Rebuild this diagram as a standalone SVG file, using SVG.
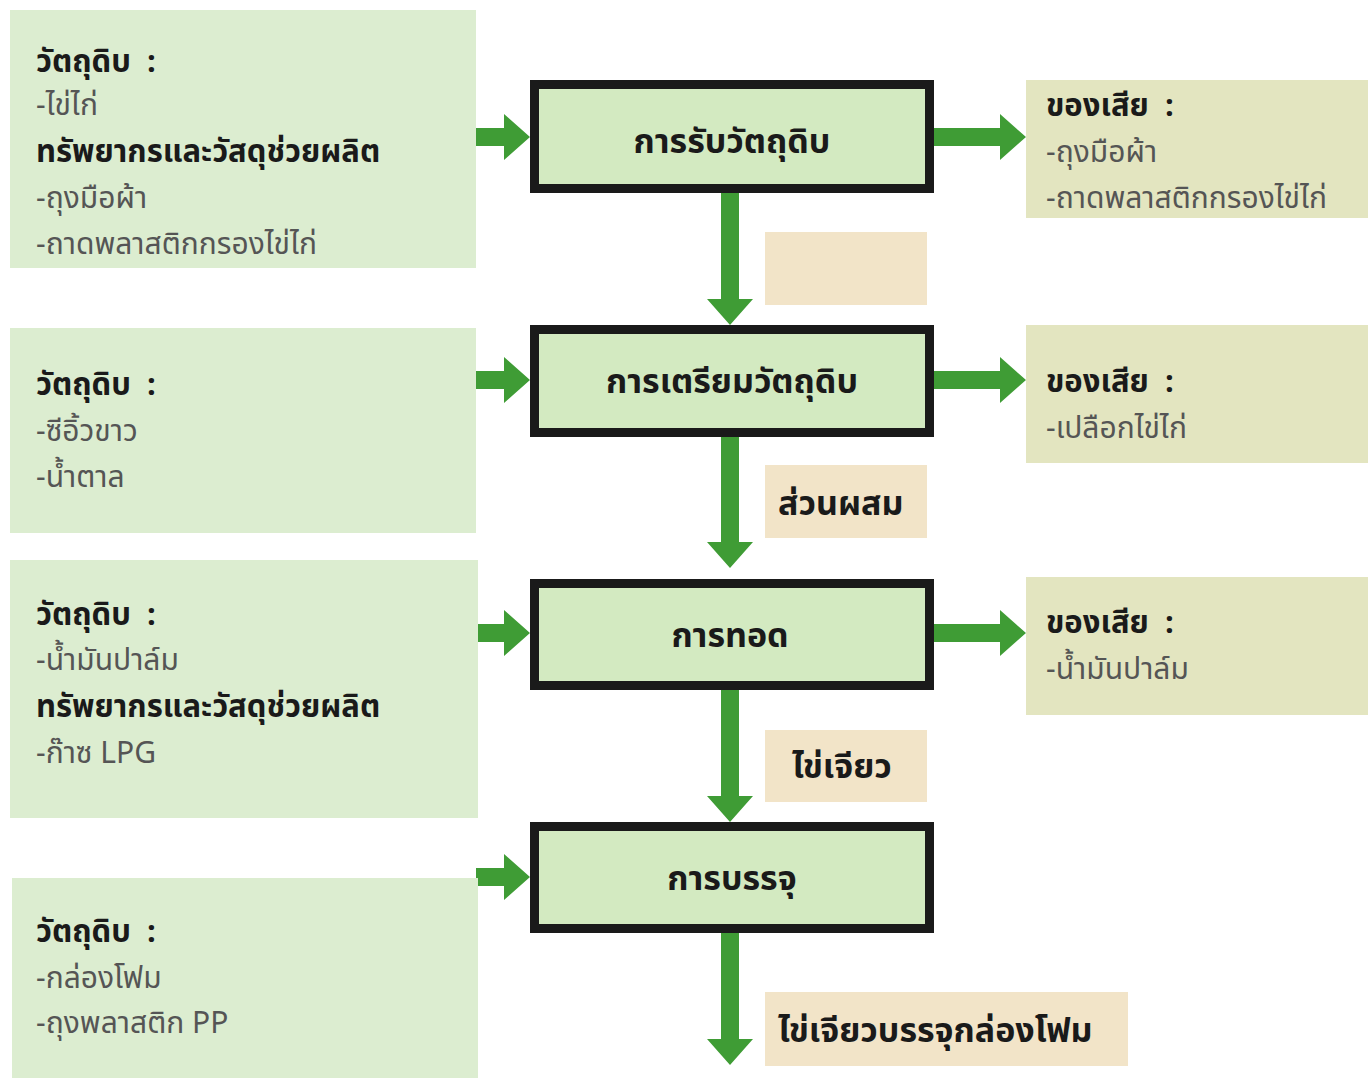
<svg xmlns="http://www.w3.org/2000/svg" width="1368" height="1078" viewBox="0 0 1368 1078">
<style>
.in{fill:#dcedd0}
.out{fill:#e3e5c0}
.lab{fill:#f2e4c8}
.proc{fill:#d3eac1;stroke:#1a1a1a;stroke-width:9}
.arr{fill:#3f9c35}
text{font-family:"Noto Sans Thai","Noto Sans","DejaVu Sans",sans-serif}
.h{font-size:31px;font-weight:bold;fill:#1a1a1a}
.b{font-size:30px;fill:#555}
.p{font-size:34px;font-weight:bold;fill:#1a1a1a;text-anchor:middle}
.l{font-size:34px;font-weight:bold;fill:#1a1a1a}
</style>
<rect width="1368" height="1078" fill="#fff"/>
<g id="connectors">
<path class="arr" d="M476,128 H504 V114 L530,137 L504,160 V146 H476 Z"/>
<path class="arr" d="M476,371 H504 V357 L530,380 L504,403 V389 H476 Z"/>
<path class="arr" d="M476,624 H504 V610 L530,633 L504,656 V642 H476 Z"/>
<path class="arr" d="M476,868 H504 V854 L530,877 L504,900 V886 H476 Z"/>
<path class="arr" d="M934,128 H1000 V114 L1026,137 L1000,160 V146 H934 Z"/>
<path class="arr" d="M934,371 H1000 V357 L1026,380 L1000,403 V389 H934 Z"/>
<path class="arr" d="M934,624 H1000 V610 L1026,633 L1000,656 V642 H934 Z"/>
<path class="arr" d="M721,193 V299 H707 L730,325 L753,299 H739 V193 Z"/>
<path class="arr" d="M721,437 V542 H707 L730,568 L753,542 H739 V437 Z"/>
<path class="arr" d="M721,690 V796 H707 L730,822 L753,796 H739 V690 Z"/>
<path class="arr" d="M721,933 V1039 H707 L730,1065 L753,1039 H739 V933 Z"/>
</g>
<g id="in1"><rect class="in" x="10" y="10" width="466" height="258"/>
<text class="h" x="36" y="72">วัตถุดิบ&#160;&#160;:</text>
<text class="b" x="36" y="115">-ไข่ไก่</text>
<text class="h" x="36" y="162">ทรัพยากรและวัสดุช่วยผลิต</text>
<text class="b" x="36" y="208">-ถุงมือผ้า</text>
<text class="b" x="36" y="254">-ถาดพลาสติกกรองไข่ไก่</text></g>
<g id="in2"><rect class="in" x="10" y="328" width="466" height="205"/>
<text class="h" x="36" y="395">วัตถุดิบ&#160;&#160;:</text>
<text class="b" x="36" y="441">-ซีอิ้วขาว</text>
<text class="b" x="36" y="487">-น้ำตาล</text></g>
<g id="in3"><rect class="in" x="10" y="560" width="468" height="258"/>
<text class="h" x="36" y="625">วัตถุดิบ&#160;&#160;:</text>
<text class="b" x="36" y="670">-น้ำมันปาล์ม</text>
<text class="h" x="36" y="717">ทรัพยากรและวัสดุช่วยผลิต</text>
<text class="b" x="36" y="763">-ก๊าซ LPG</text></g>
<g id="in4"><rect class="in" x="12" y="878" width="466" height="200"/>
<text class="h" x="36" y="942">วัตถุดิบ&#160;&#160;:</text>
<text class="b" x="36" y="988">-กล่องโฟม</text>
<text class="b" x="36" y="1033">-ถุงพลาสติก PP</text></g>
<g id="p1"><rect class="proc" x="534.5" y="84.5" width="395" height="104"/><text class="p" x="732" y="153">การรับวัตถุดิบ</text></g>
<g id="p2"><rect class="proc" x="534.5" y="329.5" width="395" height="103"/><text class="p" x="732" y="393">การเตรียมวัตถุดิบ</text></g>
<g id="p3"><rect class="proc" x="534.5" y="583.5" width="395" height="102"/><text class="p" x="730" y="647">การทอด</text></g>
<g id="p4"><rect class="proc" x="534.5" y="826.5" width="395" height="102"/><text class="p" x="732" y="890">การบรรจุ</text></g>
<g id="w1"><rect class="out" x="1026" y="80" width="342" height="138"/>
<text class="h" x="1046" y="116">ของเสีย&#160;&#160;:</text>
<text class="b" x="1046" y="162">-ถุงมือผ้า</text>
<text class="b" x="1046" y="208">-ถาดพลาสติกกรองไข่ไก่</text></g>
<g id="w2"><rect class="out" x="1026" y="325" width="342" height="138"/>
<text class="h" x="1046" y="392">ของเสีย&#160;&#160;:</text>
<text class="b" x="1046" y="438">-เปลือกไข่ไก่</text></g>
<g id="w3"><rect class="out" x="1026" y="577" width="342" height="138"/>
<text class="h" x="1046" y="633">ของเสีย&#160;&#160;:</text>
<text class="b" x="1046" y="679">-น้ำมันปาล์ม</text></g>
<g id="l1"><rect class="lab" x="765" y="232" width="162" height="73"/></g>
<g id="l2"><rect class="lab" x="765" y="465" width="162" height="73"/><text class="l" x="778" y="515">ส่วนผสม</text></g>
<g id="l3"><rect class="lab" x="765" y="730" width="162" height="72"/><text class="l" x="792" y="778">ไข่เจียว</text></g>
<g id="l4"><rect class="lab" x="765" y="992" width="363" height="74"/><text class="l" x="778" y="1042">ไข่เจียวบรรจุกล่องโฟม</text></g>
</svg>
